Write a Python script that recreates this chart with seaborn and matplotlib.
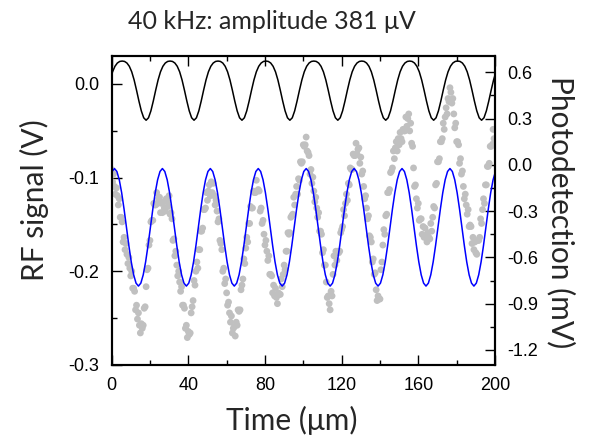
import numpy as np
import pandas as pd
import seaborn as sns
import matplotlib.pyplot as plt
from matplotlib.ticker import MultipleLocator, FormatStrFormatter

# --- data ---
# RF drive (left axis, V), sampled every 1.25 us starting at -0.75 us
rf_time = np.arange(-0.75, 200.6, 1.25)
rf_signal = [
    0.0043, 0.0130, 0.0189, 0.0224, 0.0241,
    0.0245, 0.0241, 0.0224, 0.0189, 0.0130, 0.0043, -0.0066, -0.0182, -0.0287, -0.0361,
    -0.0387, -0.0361, -0.0287, -0.0182, -0.0066, 0.0043, 0.0130, 0.0189, 0.0224, 0.0241,
    0.0245, 0.0241, 0.0224, 0.0189, 0.0130, 0.0043, -0.0066, -0.0182, -0.0287, -0.0361,
    -0.0387, -0.0361, -0.0287, -0.0182, -0.0066, 0.0043, 0.0130, 0.0189, 0.0224, 0.0241,
    0.0245, 0.0241, 0.0224, 0.0189, 0.0130, 0.0043, -0.0066, -0.0182, -0.0287, -0.0361,
    -0.0387, -0.0361, -0.0287, -0.0182, -0.0066, 0.0043, 0.0130, 0.0189, 0.0224, 0.0241,
    0.0245, 0.0241, 0.0224, 0.0189, 0.0130, 0.0043, -0.0066, -0.0182, -0.0287, -0.0361,
    -0.0387, -0.0361, -0.0287, -0.0182, -0.0066, 0.0043, 0.0130, 0.0189, 0.0224, 0.0241,
    0.0245, 0.0241, 0.0224, 0.0189, 0.0130, 0.0043, -0.0066, -0.0182, -0.0287, -0.0361,
    -0.0387, -0.0361, -0.0287, -0.0182, -0.0066, 0.0043, 0.0130, 0.0189, 0.0224, 0.0241,
    0.0245, 0.0241, 0.0224, 0.0189, 0.0130, 0.0043, -0.0066, -0.0182, -0.0287, -0.0361,
    -0.0387, -0.0361, -0.0287, -0.0182, -0.0066, 0.0043, 0.0130, 0.0189, 0.0224, 0.0241,
    0.0245, 0.0241, 0.0224, 0.0189, 0.0130, 0.0043, -0.0066, -0.0182, -0.0287, -0.0361,
    -0.0387, -0.0361, -0.0287, -0.0182, -0.0066, 0.0043, 0.0130, 0.0189, 0.0224, 0.0241,
    0.0245, 0.0241, 0.0224, 0.0189, 0.0130, 0.0043, -0.0066, -0.0182, -0.0287, -0.0361,
    -0.0387, -0.0361, -0.0287, -0.0182, -0.0066, 0.0043, 0.0130,
]

# sine fit of the photodetection (right axis, mV), every 1.25 us from -1 us
fit_time = np.arange(-1.0, 200.3, 1.25)
fit_signal = [
    -0.097, -0.043,
    -0.024, -0.043, -0.097, -0.181, -0.287, -0.405, -0.523, -0.629, -0.713, -0.767,
    -0.786, -0.767, -0.713, -0.629, -0.523, -0.405, -0.287, -0.181, -0.097, -0.043,
    -0.024, -0.043, -0.097, -0.181, -0.287, -0.405, -0.523, -0.629, -0.713, -0.767,
    -0.786, -0.767, -0.713, -0.629, -0.523, -0.405, -0.287, -0.181, -0.097, -0.043,
    -0.024, -0.043, -0.097, -0.181, -0.287, -0.405, -0.523, -0.629, -0.713, -0.767,
    -0.786, -0.767, -0.713, -0.629, -0.523, -0.405, -0.287, -0.181, -0.097, -0.043,
    -0.024, -0.043, -0.097, -0.181, -0.287, -0.405, -0.523, -0.629, -0.713, -0.767,
    -0.786, -0.767, -0.713, -0.629, -0.523, -0.405, -0.287, -0.181, -0.097, -0.043,
    -0.024, -0.043, -0.097, -0.181, -0.287, -0.405, -0.523, -0.629, -0.713, -0.767,
    -0.786, -0.767, -0.713, -0.629, -0.523, -0.405, -0.287, -0.181, -0.097, -0.043,
    -0.024, -0.043, -0.097, -0.181, -0.287, -0.405, -0.523, -0.629, -0.713, -0.767,
    -0.786, -0.767, -0.713, -0.629, -0.523, -0.405, -0.287, -0.181, -0.097, -0.043,
    -0.024, -0.043, -0.097, -0.181, -0.287, -0.405, -0.523, -0.629, -0.713, -0.767,
    -0.786, -0.767, -0.713, -0.629, -0.523, -0.405, -0.287, -0.181, -0.097, -0.043,
    -0.024, -0.043, -0.097, -0.181, -0.287, -0.405, -0.523, -0.629, -0.713, -0.767,
    -0.786, -0.767, -0.713, -0.629, -0.523, -0.405, -0.287, -0.181, -0.097, -0.043,
]

# measured photodetection (right axis, mV), every 0.5 us
pd_time = np.arange(0.0, 200.1, 0.5)
pd_signal = [
    -0.03, -0.11, -0.06, -0.14, -0.19, -0.15, -0.20, -0.26, -0.22, -0.34,
    -0.34, -0.37, -0.50, -0.47, -0.55, -0.51, -0.58, -0.64, -0.60, -0.67,
    -0.72, -0.69, -0.80, -0.80, -0.82, -0.94, -0.91, -1.00, -0.96, -1.04,
    -1.09, -1.03, -1.06, -1.04, -0.93, -0.92, -0.79, -0.68, -0.67, -0.52,
    -0.49, -0.37, -0.36, -0.36, -0.25, -0.26, -0.26, -0.18, -0.25, -0.22,
    -0.21, -0.31, -0.25, -0.31, -0.24, -0.28, -0.30, -0.22, -0.24, -0.27,
    -0.20, -0.32, -0.31, -0.35, -0.49, -0.48, -0.59, -0.56, -0.65, -0.72,
    -0.69, -0.76, -0.82, -0.79, -0.91, -0.91, -0.93, -1.06, -1.04, -1.12,
    -1.08, -1.10, -1.09, -0.96, -0.92, -0.88, -0.75, -0.78, -0.69, -0.63,
    -0.67, -0.55, -0.55, -0.43, -0.43, -0.41, -0.29, -0.29, -0.28, -0.18,
    -0.23, -0.17, -0.13, -0.20, -0.11, -0.18, -0.12, -0.20, -0.26, -0.23,
    -0.30, -0.37, -0.35, -0.49, -0.51, -0.55, -0.69, -0.67, -0.77, -0.74,
    -0.83, -0.91, -0.89, -0.96, -1.02, -0.98, -1.09, -1.06, -1.05, -1.11,
    -1.02, -1.04, -0.94, -0.95, -0.94, -0.81, -0.78, -0.74, -0.61, -0.64,
    -0.54, -0.47, -0.50, -0.38, -0.38, -0.27, -0.28, -0.28, -0.17, -0.18,
    -0.18, -0.10, -0.17, -0.16, -0.17, -0.30, -0.28, -0.38, -0.36, -0.45,
    -0.52, -0.49, -0.56, -0.62, -0.59, -0.71, -0.71, -0.72, -0.83, -0.78,
    -0.85, -0.80, -0.86, -0.90, -0.83, -0.84, -0.84, -0.74, -0.79, -0.71,
    -0.65, -0.68, -0.56, -0.56, -0.44, -0.45, -0.44, -0.34, -0.33, -0.32,
    -0.21, -0.26, -0.19, -0.14, -0.19, -0.09, -0.10, 0.02, 0.01, 0.02,
    0.13, 0.12, 0.13, 0.18, 0.09, 0.08, 0.06, -0.06, -0.03, -0.12,
    -0.08, -0.17, -0.24, -0.21, -0.28, -0.34, -0.31, -0.43, -0.43, -0.45,
    -0.57, -0.55, -0.65, -0.65, -0.76, -0.86, -0.85, -0.90, -0.94, -0.82,
    -0.85, -0.71, -0.59, -0.65, -0.56, -0.62, -0.56, -0.57, -0.56, -0.44,
    -0.42, -0.40, -0.29, -0.33, -0.25, -0.19, -0.23, -0.12, -0.13, -0.02,
    -0.03, -0.03, 0.07, 0.06, 0.06, 0.14, 0.07, 0.10, 0.11, 0.01,
    0.05, -0.06, -0.04, -0.14, -0.22, -0.20, -0.28, -0.35, -0.33, -0.46,
    -0.47, -0.50, -0.63, -0.61, -0.71, -0.70, -0.81, -0.88, -0.85, -0.87,
    -0.87, -0.68, -0.63, -0.52, -0.42, -0.45, -0.33, -0.32, -0.18, -0.18,
    -0.16, -0.05, -0.04, -0.02, 0.09, 0.04, 0.11, 0.15, 0.09, 0.17,
    0.13, 0.21, 0.17, 0.15, 0.23, 0.22, 0.22, 0.31, 0.25, 0.30,
    0.33, 0.22, 0.27, 0.14, 0.12, -0.02, -0.14, -0.13, -0.22, -0.28,
    -0.25, -0.36, -0.35, -0.35, -0.45, -0.40, -0.47, -0.41, -0.47, -0.50,
    -0.44, -0.47, -0.48, -0.38, -0.43, -0.34, -0.27, -0.28, -0.13, -0.12,
    0.02, 0.02, 0.04, 0.15, 0.15, 0.17, 0.27, 0.23, 0.31, 0.37,
    0.33, 0.43, 0.41, 0.50, 0.47, 0.40, 0.43, 0.33, 0.24, 0.27,
    0.15, 0.15, 0.13, 0.01, 0.04, -0.06, -0.04, -0.14, -0.22, -0.19,
    -0.26, -0.32, -0.29, -0.40, -0.39, -0.40, -0.51, -0.47, -0.55, -0.50,
    -0.57, -0.58, -0.49, -0.49, -0.47, -0.35, -0.38, -0.29, -0.22, -0.25,
    -0.13, -0.13, -0.01, -0.01, 0.01, 0.12, 0.12, 0.13, 0.23, 0.17,
    0.23,
]

x_ticks = [0, 40, 80, 120, 160, 200]
left_ticks = [0.0, -0.1, -0.2, -0.3]
right_ticks = [0.6, 0.3, 0.0, -0.3, -0.6, -0.9, -1.2]

# --- style ---
sns.set_style("ticks")
plt.rcParams['font.family'] = ['Liberation Sans', 'DejaVu Sans']
plt.rcParams['axes.unicode_minus'] = False
label_font = ['Lato', 'DejaVu Sans']

fig = plt.figure(figsize=(6, 4.37), dpi=100)
ax = fig.add_axes([0.186, 0.165, 0.639, 0.7075])
ax2 = ax.twinx()

rf_df = pd.DataFrame({'t': rf_time, 'v': rf_signal})
fit_df = pd.DataFrame({'t': fit_time, 'v': fit_signal})
pd_df = pd.DataFrame({'t': pd_time, 'v': pd_signal})

sns.lineplot(data=rf_df, x='t', y='v', ax=ax, color='black', linewidth=1.1)
sns.scatterplot(data=pd_df, x='t', y='v', ax=ax2, color='#c0c0c0', s=24,
                edgecolor='none', linewidth=0, zorder=1)
sns.lineplot(data=fit_df, x='t', y='v', ax=ax2, color='#0000ff', linewidth=1.1, zorder=2)

ax.set_xlim(0, 200)
ax.set_ylim(-0.3, 0.0302)
ax2.set_ylim(-1.297, 0.7075)

ax.set_xticks(x_ticks)
ax.xaxis.set_minor_locator(MultipleLocator(20))
ax.set_yticks(left_ticks)
ax.yaxis.set_minor_locator(MultipleLocator(0.05))
ax.yaxis.set_major_formatter(FormatStrFormatter('%.1f'))
ax2.set_yticks(right_ticks)
ax2.yaxis.set_minor_locator(MultipleLocator(0.15))
ax2.yaxis.set_major_formatter(FormatStrFormatter('%.1f'))

for a in (ax, ax2):
    a.set_xlabel('')
    a.set_ylabel('')
    for sp in a.spines.values():
        sp.set_linewidth(1.5)
        sp.set_color('black')
        sp.set_visible(True)

ax.tick_params(axis='x', which='both', direction='in', top=True, bottom=True,
               labelsize=13, pad=9, colors='black')
ax.tick_params(axis='y', which='both', direction='in', left=True, right=False,
               labelsize=13, pad=9, colors='black')
ax2.tick_params(axis='y', which='both', direction='in', left=False, right=True,
                labelsize=13, pad=9, colors='black')
for a in (ax, ax2):
    a.tick_params(which='major', length=7.5, width=1.0)
    a.tick_params(which='minor', length=3.6, width=1.0)

fig.text(0.453, 0.934, '40 kHz: amplitude 381 \u03bcV', ha='center', va='baseline',
         fontsize=18, family=label_font)
fig.text(0.487, 0.016, 'Time (\u03bcm)', ha='center', va='baseline',
         fontsize=21.5, family=label_font)
fig.text(0.058, 0.541, 'RF signal (V)', ha='center', va='center', rotation=90,
         fontsize=21.5, family=label_font)
fig.text(0.935, 0.5156, 'Photodetection (mV)', ha='center', va='center', rotation=270,
         fontsize=21.5, family=label_font)

fig.savefig('out.png', dpi=100)
